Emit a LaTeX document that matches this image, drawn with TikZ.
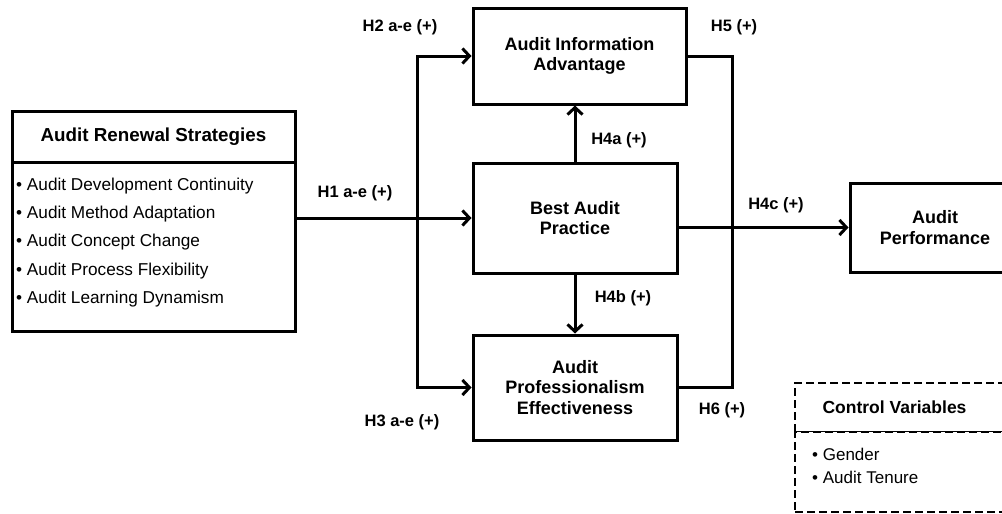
\documentclass[tikz,border=0pt]{standalone}
\usepackage{fontspec}
\setmainfont{Liberation Sans}
\usetikzlibrary{positioning,arrows.meta,calc}
\tikzset{
  box/.style={rectangle,draw=black,line width=3pt,fill=white,align=center,
    inner sep=4pt,font=\fontsize{18}{20.5}\selectfont\bfseries},
  dbox/.style={rectangle,draw=black,line width=2.4pt,dash pattern=on 8pt off 4pt,
    fill=white,inner sep=4pt,outer sep=0pt},
  lst/.style={align=left,anchor=west,inner sep=0pt,
    font=\fontsize{17.2}{28.2}\selectfont},
  ar/.style={-{Straight Barb[length=7pt,width=15pt,line width=3pt]},line width=3pt},
  ln/.style={line width=3pt},
  hyp/.style={font=\fontsize{16.5}{19}\selectfont\bfseries,inner sep=1pt},
}
\begin{document}
\begin{tikzpicture}[x=1pt,y=-1pt]
  \useasboundingbox (0,0) rectangle (1002,514);
  \clip (0,0) rectangle (1002,514);
  % renewal strategies block
  \node[box,outer sep=0pt,minimum width=283pt,minimum height=51pt,font=\fontsize{18.8}{21}\selectfont\bfseries]
    (rentitle) at (153.5,136.5) {Audit Renewal Strategies};
  \node[box,outer sep=0pt,minimum width=283pt,minimum height=169pt,below=0pt of rentitle.south,anchor=north]
    (renlist) {};
  \node[lst] (items) at (16,242.5) {\textbullet{} Audit Development Continuity\\
    \textbullet{} Audit Method Adaptation\\ \textbullet{} Audit Concept Change\\
    \textbullet{} Audit Process Flexibility\\ \textbullet{} Audit Learning Dynamism};
  % mediators and outcome
  \node[box,minimum width=213pt,minimum height=96pt] (info) at (579.5,56) {Audit Information\\Advantage};
  \node[box,minimum width=204pt,minimum height=110pt] (best) at (575,218) {Best Audit\\Practice};
  \node[box,minimum width=204pt,minimum height=105pt] (prof) at (575,387.5) {Audit\\Professionalism\\Effectiveness};
  \node[box,minimum width=170pt,minimum height=89pt] (perf) at (935,227.5) {Audit\\Performance};
  % control variables
  \node[dbox,minimum width=225pt,minimum height=49pt,font=\fontsize{17.5}{20}\selectfont\bfseries]
    (ctitle) at (907.5,407.5) {\hspace*{-26pt}Control Variables};
  \node[dbox,minimum width=225pt,minimum height=80pt,below=0pt of ctitle.south,anchor=north] (clist) {};
  \node[lst,font=\fontsize{17}{23}\selectfont] (citems) at (812,466) {\textbullet{} Gender\\ \textbullet{} Audit Tenure};
  % connectors
  \coordinate (jl) at (417,218);
  \coordinate (jr) at (732,387.5);
  \draw[ar] (renlist.east |- best.west) -- (best.west);
  \draw[ar] (jl) |- (info.west);
  \draw[ar] (jl) |- (prof.west);
  \draw[ar] (best.north) -- (best.north |- info.south);
  \draw[ar] (best.south) -- (best.south |- prof.north);
  \draw[ar] (best.east |- perf.west) -- (perf.west);
  \draw[ln] (info.east) -| (jr) -- (prof.east);
  % hypothesis labels
  \node[hyp] (h1) at (355,193) {H1 a-e (+)};
  \node[hyp] (h2) at (400,27) {H2 a-e (+)};
  \node[hyp] (h3) at (402,422) {H3 a-e (+)};
  \node[hyp] (h4a) at (619,140) {H4a (+)};
  \node[hyp] (h4b) at (623,298) {H4b (+)};
  \node[hyp] (h4c) at (776,205) {H4c (+)};
  \node[hyp] (h5) at (734,27) {H5 (+)};
  \node[hyp] (h6) at (722,410) {H6 (+)};
\end{tikzpicture}
\end{document}
